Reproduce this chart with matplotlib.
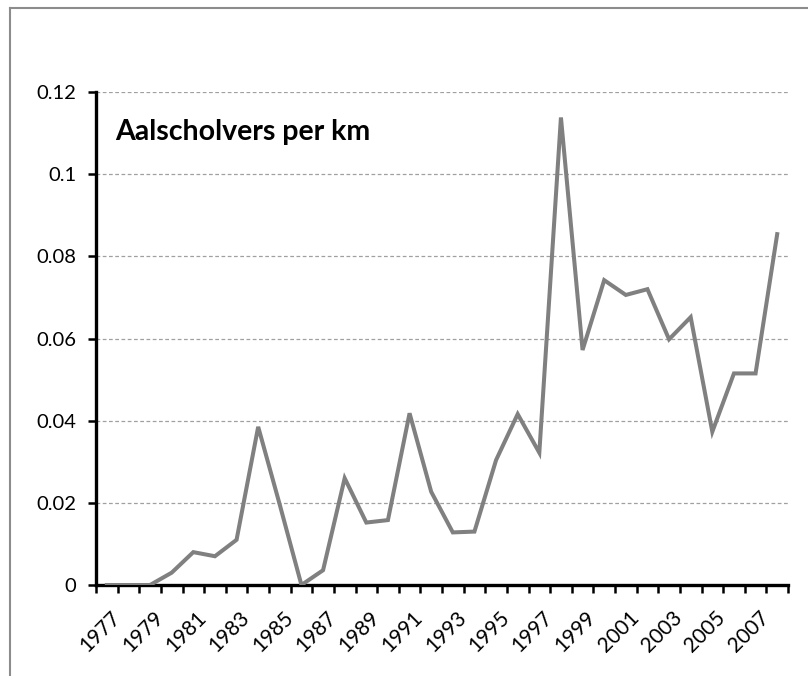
import numpy as np
import matplotlib
matplotlib.use('Agg')
import matplotlib.pyplot as plt
import matplotlib.transforms as mtransforms
from matplotlib.lines import Line2D

years = list(range(1977, 2009))
values = [0.0, 0.0, 0.0, 0.003, 0.008, 0.007, 0.011, 0.0385, 0.0195, 0.0,
          0.0036, 0.026, 0.0152, 0.0158, 0.0418, 0.0227, 0.0128, 0.013,
          0.0304, 0.0416, 0.0322, 0.1138, 0.0572, 0.0742, 0.0706, 0.072,
          0.0598, 0.0652, 0.0373, 0.0515, 0.0515, 0.0854]
yticks = [0, 0.02, 0.04, 0.06, 0.08, 0.1, 0.12]
ytick_labels = ['0', '0.02', '0.04', '0.06', '0.08', '0.1', '0.12']
title = 'Aalscholvers per km'

plt.rcParams['font.family'] = ['Lato', 'DejaVu Sans']

fig = plt.figure(figsize=(8.08, 6.76), dpi=100)
ax = fig.add_axes([96/808, 1-585/676, (788-96)/808, (585-92)/676])

x = np.arange(len(years))
ax.plot(x, values, color='#808080', lw=2.9, solid_joinstyle='miter', zorder=3)

ax.set_xlim(-0.5, len(years) - 0.5)
ax.set_ylim(0, 0.12)
ax.set_yticks(yticks)
ax.set_yticklabels(ytick_labels, fontsize=14.5)
ax.yaxis.grid(True, linestyle=(0, (3, 2)), color='#a0a0a0', lw=0.9)
ax.set_axisbelow(True)

ax.set_xticks(x[::2])
ax.set_xticklabels([str(y) for y in years[::2]], rotation=45, ha='right',
                   rotation_mode='anchor', fontsize=15)
ax.set_xticks(np.arange(-0.5, len(years)), minor=True)
ax.tick_params(axis='x', which='major', length=0, pad=16)
ax.tick_params(axis='x', which='minor', length=6, width=1.8, direction='out')
ax.tick_params(axis='y', length=6, width=1.8, direction='out', pad=8)
shift = mtransforms.ScaledTranslation(3/100, 0, fig.dpi_scale_trans)
for lab in ax.get_xticklabels():
    lab.set_transform(lab.get_transform() + shift)

for s in ['top', 'right']:
    ax.spines[s].set_visible(False)
for s in ['left', 'bottom']:
    ax.spines[s].set_linewidth(2.4)
    ax.spines[s].set_color('black')

ax.text(0.027, 0.945, title, transform=ax.transAxes, fontsize=20.5,
        fontweight='bold', va='top', ha='left')

# chart border (partly cropped)
fig.add_artist(Line2D([10/808, 10/808], [0, 1-8/676], transform=fig.transFigure,
                      color='#8c8c8c', lw=1.5))
fig.add_artist(Line2D([10/808, 1], [1-8/676, 1-8/676], transform=fig.transFigure,
                      color='#8c8c8c', lw=1.5))

fig.savefig('out.png', dpi=100)
